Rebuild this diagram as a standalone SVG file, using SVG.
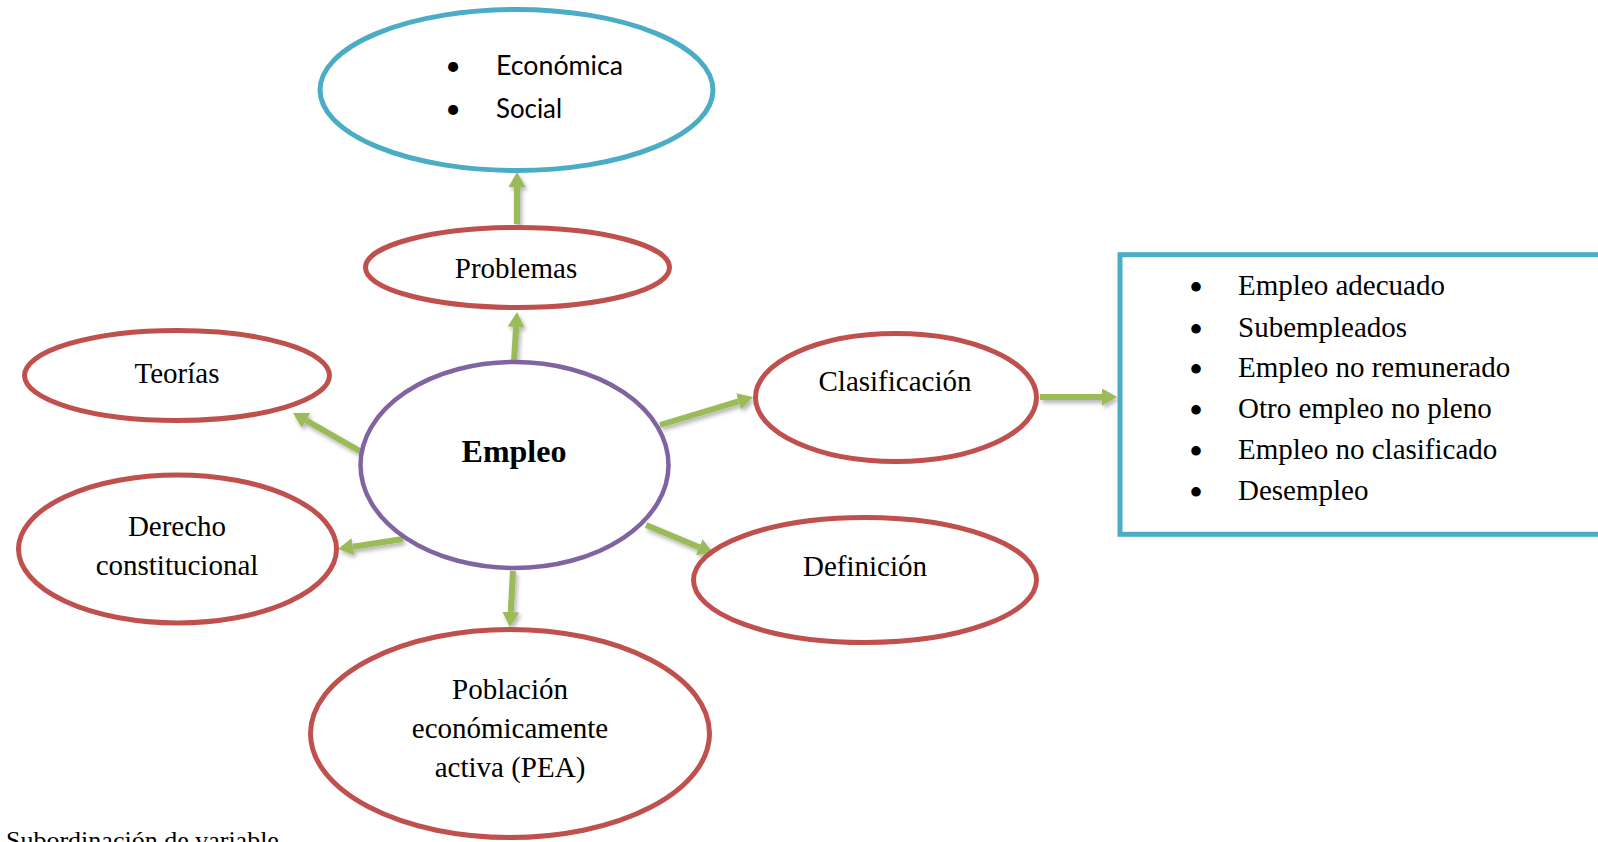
<svg xmlns="http://www.w3.org/2000/svg" width="1598" height="842" viewBox="0 0 1598 842">
<style>
  .red { fill: #ffffff; stroke: #c0504d; stroke-width: 5; }
  .blue { fill: #ffffff; stroke: #4bacc6; stroke-width: 5; }
  .purple { fill: #ffffff; stroke: #8064a2; stroke-width: 4.5; }
  .t { font-family: "Liberation Serif", "Times New Roman", serif; font-size: 29px; fill: #000; }
  .c { text-anchor: middle; }
  .b { font-weight: bold; font-size: 32px; }
  .bul { font-family: "Liberation Serif", "Times New Roman", serif; font-size: 40px; fill: #000; text-anchor: middle; }
  .sans { font-family: Lato, "Liberation Sans", sans-serif; font-size: 27px; fill: #000; }
  .arrow { stroke: #9bbb59; stroke-width: 6; fill: none; marker-end: url(#head); }
</style>
<defs>
  <marker id="head" markerUnits="userSpaceOnUse" viewBox="0 0 15 17" markerWidth="15" markerHeight="17" refX="0" refY="8.5" orient="auto">
    <path d="M0,0 L15,8.5 L0,17 Z" fill="#9bbb59"/>
  </marker>
  <filter id="shadow" x="-20%" y="-20%" width="140%" height="140%">
    <feDropShadow dx="2" dy="3" stdDeviation="2" flood-color="#000" flood-opacity="0.3"/>
  </filter>
</defs>
<rect width="1598" height="842" fill="#ffffff"/>

<g id="connectors" filter="url(#shadow)">
  <line class="arrow" x1="517" y1="224" x2="517" y2="187"/>
  <line class="arrow" x1="514" y1="361" x2="516.1" y2="327"/>
  <line class="arrow" x1="372" y1="458" x2="306" y2="420.4"/>
  <line class="arrow" x1="403" y1="539" x2="352.8" y2="546.7"/>
  <line class="arrow" x1="660" y1="425" x2="738.6" y2="401.3"/>
  <line class="arrow" x1="646" y1="525" x2="699.2" y2="547.2"/>
  <line class="arrow" x1="513" y1="571" x2="510.8" y2="612"/>
  <line class="arrow" x1="1040" y1="397" x2="1102" y2="397"/>
</g>

<g id="node-tipos">
  <ellipse class="blue" cx="516.5" cy="90" rx="196.5" ry="80.5"/>
  <text class="sans c" x="453" y="75">•</text>
  <text class="sans" x="496" y="75" textLength="127" lengthAdjust="spacingAndGlyphs">Económica</text>
  <text class="sans c" x="453" y="118">•</text>
  <text class="sans" x="496" y="118" textLength="66" lengthAdjust="spacingAndGlyphs">Social</text>
</g>

<g id="node-problemas">
  <ellipse class="red" cx="517.5" cy="267.5" rx="152" ry="40"/>
  <text class="t c" x="516" y="278">Problemas</text>
</g>

<g id="node-teorias">
  <ellipse class="red" cx="177" cy="375.5" rx="152.5" ry="45"/>
  <text class="t c" x="177" y="383">Teorías</text>
</g>

<g id="node-derecho">
  <ellipse class="red" cx="177.5" cy="549" rx="159" ry="74"/>
  <text class="t c" x="177" y="536">Derecho</text>
  <text class="t c" x="177" y="575">constitucional</text>
</g>

<g id="node-empleo">
  <ellipse class="purple" cx="514.5" cy="465" rx="154" ry="103"/>
  <text class="t c b" x="514" y="462">Empleo</text>
</g>

<g id="node-clasificacion">
  <ellipse class="red" cx="896" cy="397.5" rx="140.5" ry="64"/>
  <text class="t c" x="895" y="391">Clasificación</text>
</g>

<g id="node-definicion">
  <ellipse class="red" cx="865" cy="580" rx="171.5" ry="62.5"/>
  <text class="t c" x="865" y="576">Definición</text>
</g>

<g id="node-pea">
  <ellipse class="red" cx="510" cy="733.5" rx="199.5" ry="104"/>
  <text class="t c" x="510" y="699">Población</text>
  <text class="t c" x="510" y="738">económicamente</text>
  <text class="t c" x="510" y="777">activa (PEA)</text>
</g>

<g id="node-lista">
  <rect x="1120" y="254.7" width="500" height="279.6" fill="#ffffff" stroke="#4bacc6" stroke-width="5"/>
  <text class="bul" x="1196" y="301">•</text>
  <text class="t" x="1238" y="295">Empleo adecuado</text>
  <text class="bul" x="1196" y="343">•</text>
  <text class="t" x="1238" y="337">Subempleados</text>
  <text class="bul" x="1196" y="383">•</text>
  <text class="t" x="1238" y="377">Empleo no remunerado</text>
  <text class="bul" x="1196" y="424">•</text>
  <text class="t" x="1238" y="418">Otro empleo no pleno</text>
  <text class="bul" x="1196" y="465">•</text>
  <text class="t" x="1238" y="459">Empleo no clasificado</text>
  <text class="bul" x="1196" y="506">•</text>
  <text class="t" x="1238" y="500">Desempleo</text>
</g>

<text class="t" x="6" y="849" style="font-size:26px">Subordinación de variable</text>
</svg>
